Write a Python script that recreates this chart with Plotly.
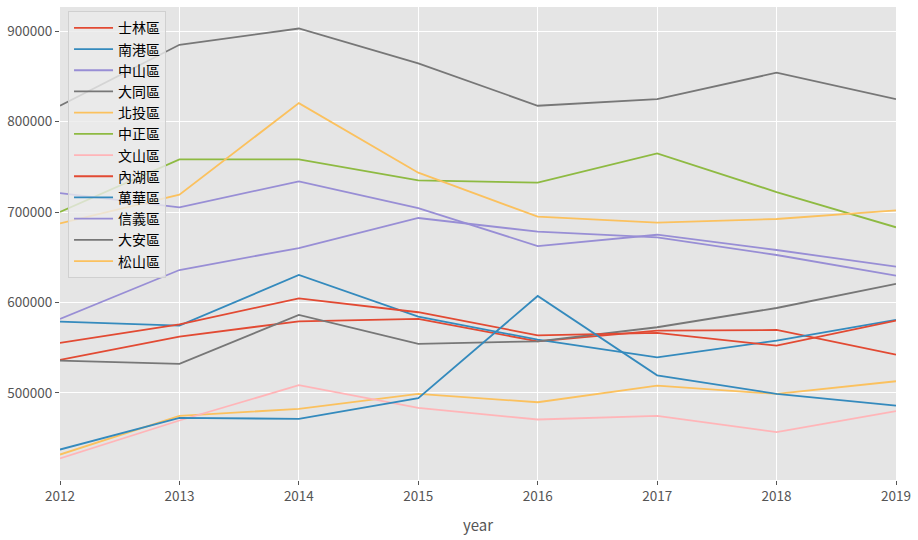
import plotly.graph_objects as go

years = [2012, 2013, 2014, 2015, 2016, 2017, 2018, 2019]

districts = ["士林區", "南港區", "中山區", "大同區", "北投區", "中正區",
             "文山區", "內湖區", "萬華區", "信義區", "大安區", "松山區"]

shilin   = [536500, 562300, 579200, 581800, 557000, 568900, 569600, 542400]
nangang  = [578800, 574400, 630400, 584400, 558900, 539400, 557800, 580700]
zhongshan = [581800, 635900, 660200, 693400, 678300, 672000, 652500, 629700]
datong   = [535800, 532100, 586200, 554200, 557100, 572600, 593900, 620500]
beitou   = [431900, 474600, 482400, 498900, 489700, 508100, 498900, 512900]
zhongzheng = [700000, 758200, 758200, 735000, 732400, 764800, 722100, 683100]
wenshan  = [427500, 469500, 508500, 483500, 470600, 474600, 456600, 479800]
neihu    = [555300, 575900, 604600, 589200, 563700, 566300, 552300, 580000]
wanhua   = [437400, 472400, 471300, 494100, 607200, 519500, 498900, 486000]
xinyi    = [721000, 705200, 733900, 704400, 662400, 674900, 658000, 639600]
daan     = [817500, 884900, 902900, 864300, 817500, 824900, 854000, 824900]
songshan = [687500, 719200, 820400, 743500, 694900, 688200, 692300, 701900]

series = [shilin, nangang, zhongshan, datong, beitou, zhongzheng,
          wenshan, neihu, wanhua, xinyi, daan, songshan]

colors = ["#E24A33", "#348ABD", "#988ED5", "#777777", "#FBC15E", "#8EBA42",
          "#FFB5B8"]

fig = go.Figure()
for i, (name, vals) in enumerate(zip(districts, series)):
    fig.add_trace(go.Scatter(
        x=years, y=vals, name=name, mode="lines",
        line=dict(color=colors[i % len(colors)], width=1.8),
    ))

allv = [v for s in series for v in s]
lo, hi = min(allv), max(allv)
pad = (hi - lo) * 0.05

tickfont = dict(family="Noto Sans CJK JP", size=13.5, color="#555555")

fig.update_layout(
    width=918, height=540,
    margin=dict(l=60, r=22, t=7, b=60),
    paper_bgcolor="white",
    plot_bgcolor="#E5E5E5",
    font=dict(family="Noto Sans CJK TC, DejaVu Sans", size=14, color="#555555"),
    legend=dict(
        x=0.0096, y=0.991, xanchor="left", yanchor="top",
        bgcolor="rgba(235,235,235,0.8)", bordercolor="#D0D0D0", borderwidth=1,
        font=dict(family="Noto Sans CJK TC", size=14, color="black"),
        itemwidth=39,
    ),
    xaxis=dict(
        range=[2012, 2019], tickmode="array", tickvals=years,
        ticktext=[str(y) for y in years],
        showgrid=True, gridcolor="white", gridwidth=1.2,
        zeroline=False, ticks="outside", ticklen=4, tickcolor="#555555",
        tickfont=tickfont, automargin=False,
        title=dict(text="year", font=dict(family="Noto Sans CJK JP", size=15, color="#555555"), standoff=16),
    ),
    yaxis=dict(
        range=[lo - pad, hi + pad],
        tickmode="array", tickvals=[500000, 600000, 700000, 800000, 900000],
        ticktext=["500000", "600000", "700000", "800000", "900000"],
        showgrid=True, gridcolor="white", gridwidth=1.2,
        zeroline=False, ticks="outside", ticklen=4, tickcolor="#555555",
        tickfont=tickfont, automargin=False,
    ),
)

fig.write_html("out.html")
